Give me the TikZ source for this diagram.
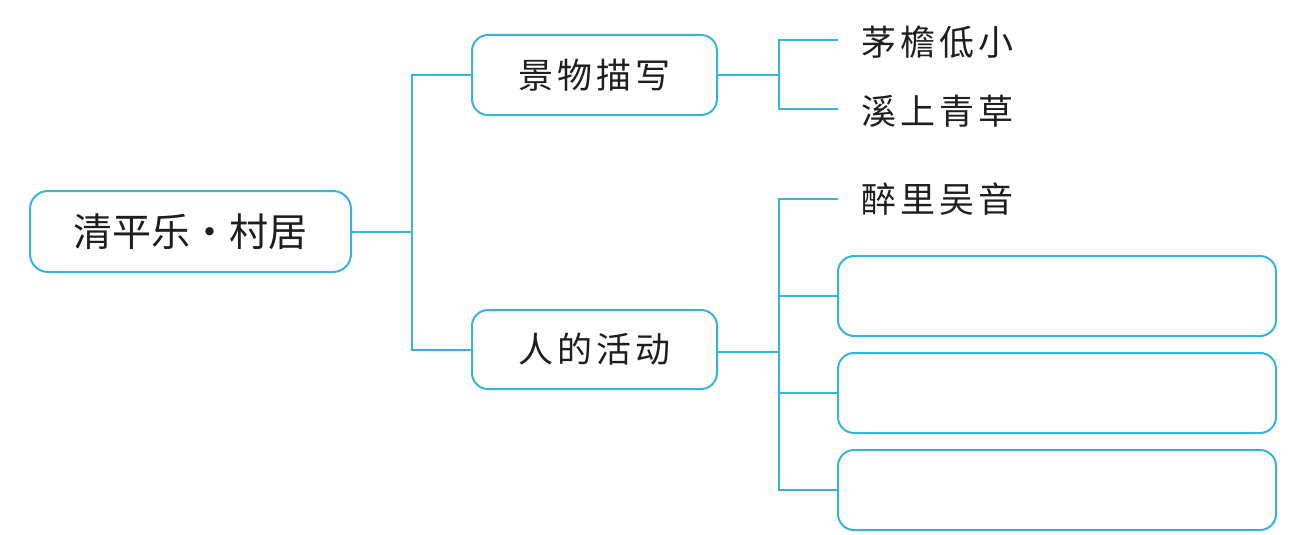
\documentclass[tikz,border=0pt]{standalone}
\usepackage{fontspec}
\newfontfamily\cjk{Noto Sans CJK SC}
\newfontfamily\cjkl[LetterSpace=12]{Noto Sans CJK SC}
\definecolor{lineblue}{RGB}{56,178,222}
\definecolor{inkgray}{RGB}{30,30,30}
\begin{document}
\begin{tikzpicture}[x=1pt,y=-1pt,
  conn/.style={draw=lineblue,line width=2pt},
  box/.style={draw=lineblue,line width=2pt,rounded corners=16pt,inner sep=0pt,text=inkgray},
  leaf/.style={anchor=west,inner sep=0pt,text=inkgray,font=\cjkl\fontsize{35}{38}\selectfont}]
\useasboundingbox (0,0) rectangle (1312,535);
\node[box,rounded corners=18pt,minimum width=321pt,minimum height=81pt,font=\cjk\fontsize{39}{42}\selectfont] (root) at (190.5,231.5) {清平乐・村居};
\node[box,minimum width=245pt,minimum height=80pt,font=\cjkl\fontsize{35}{38}\selectfont] (b1) at (594.5,75) {景物描写};
\node[box,minimum width=245pt,minimum height=79pt,font=\cjkl\fontsize{35}{38}\selectfont] (b2) at (594.5,349.5) {人的活动};
\node[box,minimum width=438pt,minimum height=80pt] (e1) at (1057,296) {};
\node[box,minimum width=438pt,minimum height=80pt] (e2) at (1057,393) {};
\node[box,minimum width=438pt,minimum height=80pt] (e3) at (1057,490) {};
\node[leaf] (t1) at (861,42) {茅檐低小};
\node[leaf] (t2) at (861,111) {溪上青草};
\node[leaf] (t3) at (861,199) {醉里吴音};
\coordinate (j1) at (412,231.5);
\coordinate (j2) at (779,75);
\coordinate (j3) at (779,352);
\coordinate (c1) at (838,40);
\coordinate (c2) at (838,109);
\coordinate (c3) at (838,199);
\draw[conn] (root.east) -- (j1);
\draw[conn] (b1.west) -| (j1) |- (b2.west);
\draw[conn] (b1.east) -- (j2);
\draw[conn] (c1) -| (j2) |- (c2);
\draw[conn] (b2.east |- j3) -- (j3);
\draw[conn] (c3) -| (j3) |- (e3.west);
\draw[conn] (j3 |- e1.west) -- (e1.west);
\draw[conn] (j3 |- e2.west) -- (e2.west);
\end{tikzpicture}
\end{document}
